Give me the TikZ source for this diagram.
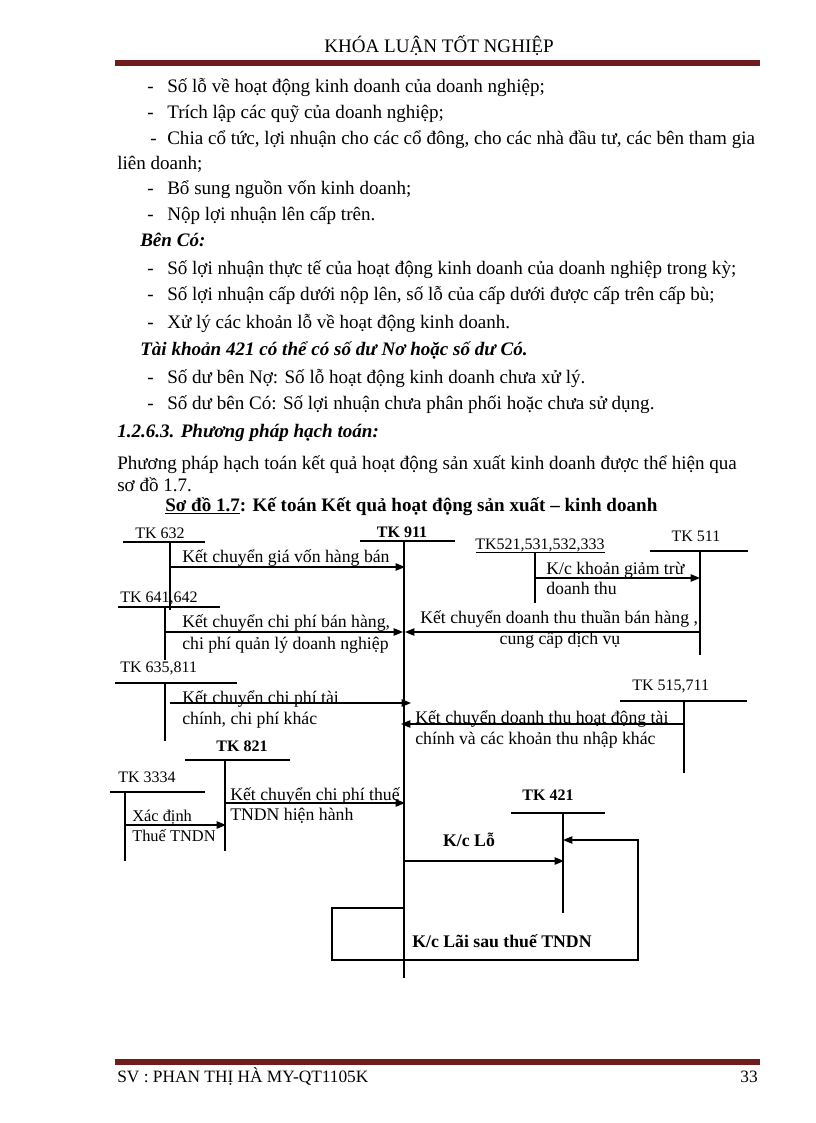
\documentclass[tikz,border=0pt]{standalone}
\usepackage{fontspec}
\setmainfont{Liberation Serif}
\usetikzlibrary{arrows.meta}
\definecolor{maroon}{RGB}{110,28,28}
\begin{document}
\begin{tikzpicture}[x=0.75pt,y=-0.75pt,
  txt/.style={anchor=base west,inner sep=0pt,font=\fontsize{14.3pt}{16pt}\selectfont},
  bul/.style={txt},
  tkl/.style={anchor=base west,inner sep=0pt,font=\fontsize{12pt}{14pt}\selectfont},
  tkb/.style={anchor=base,inner sep=0pt,font=\fontsize{12pt}{14pt}\selectfont\bfseries},
  dtxt/.style={anchor=base west,inner sep=0pt,font=\fontsize{13.3pt}{15pt}\selectfont},
  dsm/.style={anchor=base west,inner sep=0pt,font=\fontsize{12.3pt}{14pt}\selectfont},
  acc/.style={line width=1pt},
  arr/.style={line width=1pt,-{Triangle[length=7pt,width=5.5pt]}},
  band/.style={line width=3.8pt,draw=maroon}]
\useasboundingbox (0,0) rectangle (816,1123);
% header
\node[anchor=base,inner sep=0pt,font=\fontsize{14.3pt}{16pt}\selectfont] (hdr) at (439,53) {KHÓA LUẬN TỐT NGHIỆP};
\coordinate (hl1) at (115,63); \coordinate (hl2) at (760,63);
\draw[band] (hl1) -- (hl2);
% body text
\node[bul] (d1) at (147,93) {-}; \node[txt] (l1) at (167,93) {Số lỗ về hoạt động kinh doanh của doanh nghiệp;};
\node[bul] (d2) at (147,119) {-}; \node[txt] (l2) at (167,119) {Trích lập các quỹ của doanh nghiệp;};
\node[bul] (d3) at (150,145) {-}; \node[txt,text width=442pt,align=justify] (l3) at (167,145) {\parfillskip=0pt Chia cổ tức, lợi nhuận cho các cổ đông, cho các nhà đầu tư, các bên tham gia};
\node[txt] (l4) at (117,170) {liên doanh;};
\node[bul] (d5) at (147,195) {-}; \node[txt] (l5) at (167,195) {Bổ sung nguồn vốn kinh doanh;};
\node[bul] (d6) at (147,220) {-}; \node[txt] (l6) at (167,220) {Nộp lợi nhuận lên cấp trên.};
\node[txt,font=\fontsize{14.3pt}{16pt}\selectfont\bfseries\itshape] (bc) at (140,247) {Bên Có:};
\node[bul] (d7) at (147,274) {-}; \node[txt] (l7) at (167,274) {Số lợi nhuận thực tế của hoạt động kinh doanh của doanh nghiệp trong kỳ;};
\node[bul] (d8) at (147,300) {-}; \node[txt] (l8) at (167,300) {Số lợi nhuận cấp dưới nộp lên, số lỗ của cấp dưới được cấp trên cấp bù;};
\node[bul] (d9) at (147,328) {-}; \node[txt] (l9) at (167,328) {Xử lý các khoản lỗ về hoạt động kinh doanh.};
\node[txt,font=\fontsize{14.3pt}{16pt}\selectfont\bfseries\itshape] (tk) at (140,355) {Tài khoản 421 có thể có số dư Nơ hoặc số dư Có.};
\node[bul] (d10) at (147,383) {-}; \node[txt] (l10) at (167,383) {Số dư bên Nợ: Số lỗ hoạt động kinh doanh chưa xử lý.};
\node[bul] (d11) at (147,409) {-}; \node[txt] (l11) at (167,409) {Số dư bên Có: Số lợi nhuận chưa phân phối hoặc chưa sử dụng.};
\node[txt,font=\fontsize{14.3pt}{16pt}\selectfont\bfseries\itshape] (sec) at (117,437) {1.2.6.3. Phương pháp hạch toán:};
\node[txt] (p1) at (117,469) {Phương pháp hạch toán kết quả hoạt động sản xuất kinh doanh được thể hiện qua};
\node[txt] (p2) at (117,491) {sơ đồ 1.7.};
\node[txt,font=\fontsize{14.3pt}{16pt}\selectfont\bfseries] (cap) at (165,511) {\underline{Sơ đồ 1.7}: Kế toán Kết quả hoạt động sản xuất – kinh doanh};
% ---------- diagram ----------
% TK 911
\node[tkb] (n911) at (402,537) {TK 911};
\coordinate (a911L) at (360,541); \coordinate (a911R) at (455,541);
\coordinate (a911T) at (404,541); \coordinate (a911B) at (404,978);
\draw[acc] (a911L) -- (a911R); \draw[line width=1.3pt] (a911T) -- (a911B);
% TK 632
\node[tkl] (n632) at (135,538) {TK 632};
\coordinate (a632L) at (123,542); \coordinate (a632R) at (205,542);
\coordinate (a632T) at (170,542); \coordinate (a632B) at (170,610);
\draw[acc] (a632L) -- (a632R); \draw[acc] (a632T) -- (a632B);
\coordinate (e632a) at (170,567); \coordinate (e632b) at (405,567);
\draw[arr] (e632a) -- (e632b);
\node[dtxt] (k632) at (182,562) {Kết chuyển giá vốn hàng bán};
% TK 641,642
\node[tkl] (n641) at (120,602) {TK 641,642};
\coordinate (a641L) at (118,607); \coordinate (a641R) at (220,607);
\coordinate (a641T) at (165,607); \coordinate (a641B) at (165,660);
\draw[acc] (a641L) -- (a641R); \draw[acc] (a641T) -- (a641B);
\coordinate (e641a) at (165,632); \coordinate (e641b) at (403,632);
\draw[arr] (e641a) -- (e641b);
\node[dtxt] (k641a) at (182,627) {Kết chuyển chi phí bán hàng,};
\node[dtxt] (k641b) at (182,649) {chi phí quản lý doanh nghiệp};
% TK 511
\node[anchor=base,inner sep=0pt,font=\fontsize{12pt}{14pt}\selectfont] (n511) at (696,541) {TK 511};
\coordinate (a511L) at (650,551); \coordinate (a511R) at (748,551);
\coordinate (a511T) at (700,551); \coordinate (a511B) at (700,655);
\draw[acc] (a511L) -- (a511R); \draw[acc] (a511T) -- (a511B);
\coordinate (e511a) at (700,632); \coordinate (e511b) at (405,632);
\draw[arr] (e511a) -- (e511b);
\node[dtxt] (k511a) at (420,623) {Kết chuyển doanh thu thuần bán hàng ,};
\node[anchor=base,inner sep=0pt,font=\fontsize{13.3pt}{15pt}\selectfont] (k511b) at (560,644) {cung cấp dịch vụ};
% TK 521...
\node[tkl] (n521) at (475,549) {TK521,531,532,333};
\coordinate (a521L) at (476,552); \coordinate (a521R) at (605,552);
\coordinate (a521T) at (535,552); \coordinate (a521B) at (535,603);
\draw[line width=0.6pt] (a521L) -- (a521R); \draw[acc] (a521T) -- (a521B);
\coordinate (e521a) at (535,578); \coordinate (e521b) at (700,578);
\draw[arr] (e521a) -- (e521b);
\node[dtxt] (k521a) at (546,574) {K/c khoản giảm trừ};
\node[dtxt] (k521b) at (546,594) {doanh thu};
% TK 635,811
\node[tkl] (n635) at (120,672) {TK 635,811};
\coordinate (a635L) at (115,683); \coordinate (a635R) at (237,683);
\coordinate (a635T) at (165,683); \coordinate (a635B) at (165,741);
\draw[acc] (a635L) -- (a635R); \draw[acc] (a635T) -- (a635B);
\coordinate (e635a) at (170,703); \coordinate (e635b) at (411,703);
\draw[arr] (e635a) -- (e635b);
\node[dtxt] (k635a) at (182,703) {Kết chuyển chi phí tài};
\node[dtxt] (k635b) at (182,724) {chính, chi phí khác};
% TK 515,711
\node[tkl] (n515) at (632,690) {TK 515,711};
\coordinate (a515L) at (620,701); \coordinate (a515R) at (747,701);
\coordinate (a515T) at (684,701); \coordinate (a515B) at (684,773);
\draw[acc] (a515L) -- (a515R); \draw[acc] (a515T) -- (a515B);
\coordinate (e515a) at (684,724); \coordinate (e515b) at (401,724);
\draw[arr] (e515a) -- (e515b);
\node[dtxt] (k515a) at (415,723) {Kết chuyển doanh thu hoạt động tài};
\node[dtxt] (k515b) at (415,744) {chính và các khoản thu nhập khác};
% TK 821
\node[tkb] (n821) at (242,751) {TK 821};
\coordinate (a821L) at (185,760); \coordinate (a821R) at (290,760);
\coordinate (a821T) at (225,760); \coordinate (a821B) at (225,851);
\draw[acc] (a821L) -- (a821R); \draw[acc] (a821T) -- (a821B);
\coordinate (e821a) at (225,803); \coordinate (e821b) at (405,803);
\draw[arr] (e821a) -- (e821b);
\node[dtxt] (k821a) at (230,800) {Kết chuyển chi phí thuế};
\node[dtxt] (k821b) at (230,820) {TNDN hiện hành};
% TK 3334
\node[tkl] (n3334) at (118,782) {TK 3334};
\coordinate (a3334L) at (110,792); \coordinate (a3334R) at (205,792);
\coordinate (a3334T) at (125,792); \coordinate (a3334B) at (125,861);
\draw[acc] (a3334L) -- (a3334R); \draw[acc] (a3334T) -- (a3334B);
\coordinate (e3334a) at (125,825); \coordinate (e3334b) at (226,825);
\draw[arr] (e3334a) -- (e3334b);
\node[dsm] (k3334a) at (132,821) {Xác định};
\node[dsm] (k3334b) at (132,841) {Thuế TNDN};
% TK 421
\node[tkb] (n421) at (548,800) {TK 421};
\coordinate (a421L) at (511,813); \coordinate (a421R) at (605,813);
\coordinate (a421T) at (563,813); \coordinate (a421B) at (563,913);
\draw[acc] (a421L) -- (a421R); \draw[acc] (a421T) -- (a421B);
\coordinate (elo1) at (404,861); \coordinate (elo2) at (564,861);
\draw[arr] (elo1) -- (elo2);
\node[anchor=base,inner sep=0pt,font=\fontsize{13.3pt}{15pt}\selectfont\bfseries] (klo) at (469,846) {K/c Lỗ};
\coordinate (ela1) at (404,908); \coordinate (ela2) at (332,908);
\coordinate (ela3) at (332,960); \coordinate (ela4) at (638,960);
\coordinate (ela5) at (638,840); \coordinate (ela6) at (563,840);
\draw[arr] (ela1) -- (ela2) -- (ela3) -- (ela4) -- (ela5) -- (ela6);
\node[dtxt,font=\fontsize{13.3pt}{15pt}\selectfont\bfseries] (kla) at (412,947) {K/c Lãi sau thuế TNDN};
% footer
\coordinate (fl1) at (115,1062); \coordinate (fl2) at (760,1062);
\draw[band] (fl1) -- (fl2);
\node[anchor=base west,inner sep=0pt,font=\fontsize{13pt}{15pt}\selectfont] (ft) at (117,1082) {SV : PHAN THỊ HÀ MY-QT1105K};
\node[anchor=base east,inner sep=0pt,font=\fontsize{13pt}{15pt}\selectfont] (pg) at (758,1082) {33};
\end{tikzpicture}
\end{document}
